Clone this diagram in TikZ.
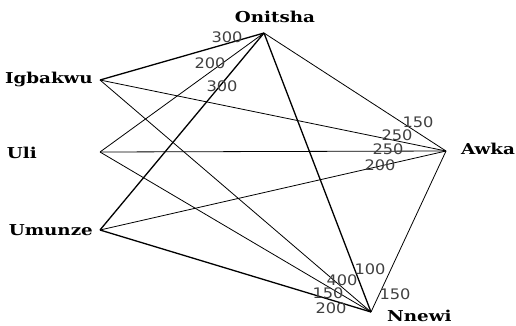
\documentclass[tikz,border=0pt]{standalone}
\usepackage{fontspec}
\newfontfamily\cityfont[FakeStretch=1.22]{DejaVu Serif}
\newfontfamily\numfont[FakeStretch=1.12]{DejaVu Sans}
\begin{document}
\begin{tikzpicture}[x=1pt,y=-1pt,
  city/.style={font=\cityfont\bfseries\fontsize{15}{15}\selectfont, inner sep=0pt},
  num/.style={font=\numfont\fontsize{14.5}{14.5}\selectfont, text=black!75, inner sep=0pt},
  thin/.style={line width=0.8pt},
  thick/.style={line width=1.3pt}]
\useasboundingbox (0,0) rectangle (516,325);
% vertices
\coordinate (O) at (264,33);
\coordinate (I) at (100,80);
\coordinate (U) at (100,152);
\coordinate (M) at (100,230);
\coordinate (A) at (446,151);
\coordinate (N) at (371,312);
% city labels
\node[city] (tO) at (275,17) {Onitsha};
\node[city,anchor=east] (tI) at (93,79) {Igbakwu};
\node[city,anchor=east] (tU) at (37,153) {Uli};
\node[city,anchor=east] (tM) at (93,230) {Umunze};
\node[city,anchor=west] (tA) at (461,149) {Awka};
\node[city,anchor=west] (tN) at (387,316) {Nnewi};
% edges
\draw[thick] (I) -- (O);
\draw[thin] (U) -- (O);
\draw[thick] (M) -- (O);
\draw[thin] (O) -- (A);
\draw[thick] (O) -- (N);
\draw[thin] (A) -- (N);
\draw[thin] (I) -- (A);
\draw[thin] (U) -- (A);
\draw[thin] (M) -- (A);
\draw[thin] (I) -- (N);
\draw[thin] (U) -- (N);
\draw[thick] (M) -- (N);
% edge labels
\node[num] (n1) at (227,37) {300};
\node[num] (n2) at (210,63) {200};
\node[num] (n3) at (222,86) {300};
\node[num] (n4) at (418,122) {150};
\node[num] (n5) at (397,135) {250};
\node[num] (n6) at (388,149) {250};
\node[num] (n7) at (380,165) {200};
\node[num] (n8) at (370,269) {100};
\node[num] (n9) at (342,280) {400};
\node[num] (n10) at (328,293) {150};
\node[num] (n11) at (331,308) {200};
\node[num] (n12) at (395,294) {150};
\end{tikzpicture}
\end{document}
